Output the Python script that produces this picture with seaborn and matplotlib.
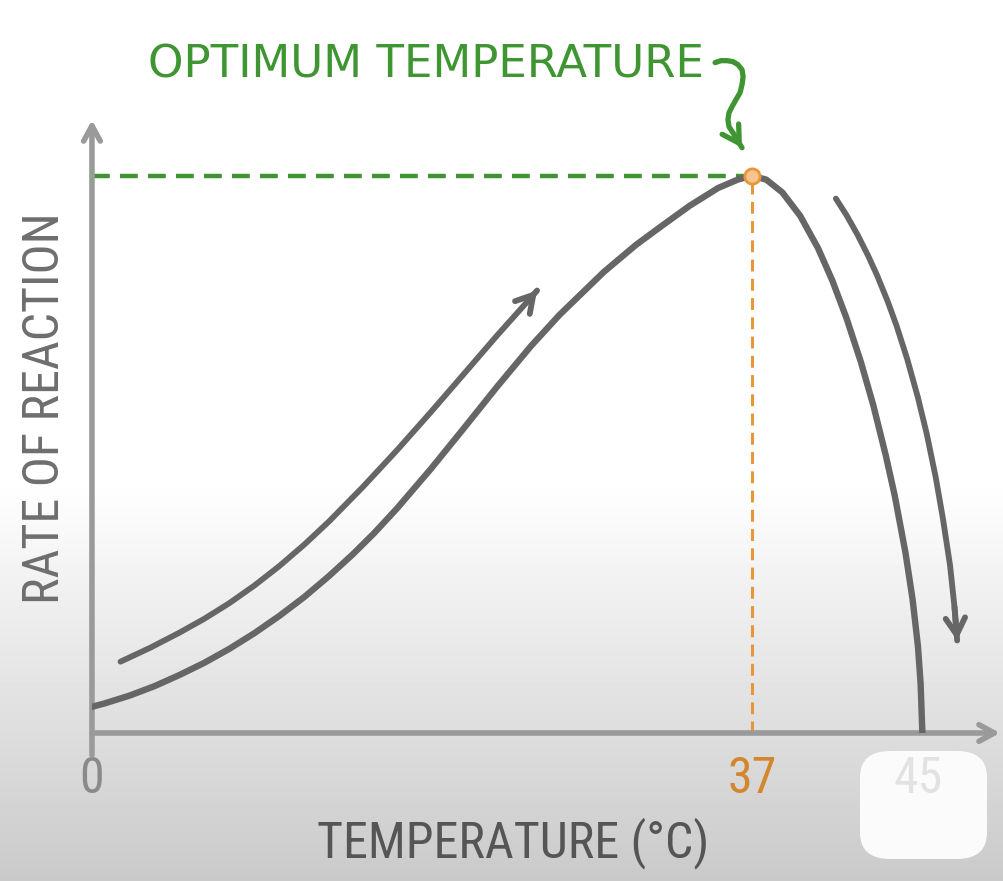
"""Enzyme activity vs temperature sketch"""

import matplotlib
matplotlib.use("Agg")

import matplotlib.pyplot as plt
import numpy as np
import pandas as pd
import seaborn as sns
from matplotlib import font_manager
from matplotlib.patches import FancyBboxPatch

# ---- data ----
temp_c = [0.0, 0.7, 2.1, 3.5, 4.9, 6.3, 7.7, 9.1, 10.5, 11.9, 13.3, 14.6, 15.8, 17.1,
          19.0, 20.8, 22.7, 24.6, 26.2, 28.7, 30.5, 31.9, 33.5, 35.1, 36.2, 37.0,
          37.8, 38.7, 39.7, 40.7, 41.5, 42.3, 43.1, 43.8, 44.5, 45.0, 45.6, 46.0,
          46.3, 46.45, 46.55]
rate = [4.7, 5.3, 6.7, 8.4, 10.4, 12.6, 15.1, 17.9, 21.0, 24.4, 28.2, 32.0, 35.8, 40.3,
        47.4, 54.5, 62.1, 69.4, 75.0, 82.75, 87.6, 90.9, 94.6, 97.8, 99.3, 100.0,
        99.3, 97.0, 92.8, 87.0, 81.2, 74.4, 66.6, 58.8, 49.8, 42.6, 32.4, 24.0,
        15.6, 8.9, 0.0]

# guide arrows drawn beside the curve
rise_temp = [1.6, 3.3, 4.9, 6.3, 7.7, 9.1, 10.5, 11.9, 13.3, 15.2, 17.1, 19.0, 20.8,
             22.7, 24.6, 24.95]
rise_rate = [12.8, 15.35, 18.0, 20.5, 23.3, 26.45, 29.95, 33.8, 38.0, 44.2, 50.75, 57.6,
             64.25, 71.3, 78.1, 79.4]
fall_temp = [41.7, 42.3, 42.9, 43.5, 44.0, 44.6, 45.1, 45.7, 46.3, 46.8, 47.3, 47.7,
             48.1, 48.35, 48.5]
fall_rate = [95.9, 92.9, 89.5, 85.7, 82.2, 77.5, 73.1, 67.1, 60.2, 53.6, 45.85, 38.5,
             30.1, 22.6, 16.6]

# curly pointer from the title down to the peak
curl_temp = [34.93, 35.26, 35.6, 35.93, 36.21, 36.44, 36.5, 36.44, 36.33, 36.1, 35.88,
             35.71, 35.65, 35.71, 35.93, 36.16, 36.44]
curl_rate = [120.3, 120.65, 120.65, 120.47, 119.93, 119.03, 117.77, 116.34, 114.9,
             113.64, 112.39, 111.31, 110.05, 108.8, 107.72, 106.46, 105.03]

optimum_temp = 37
peak_rate = 100
tick_pos = [0, 37, 46.3]
tick_labels = ["0", "37", "45"]

GREEN = "#3f9532"
ORANGE = "#e8963a"
CURVE = "#666666"
AXIS = "#9a9a9a"

sns.set_theme(style="white")
plt.rcParams["font.family"] = ["DejaVu Sans"]


def condensed_font():
    """pick a narrow sans face for the hand-lettered labels, if one is installed"""
    found = [f for f in font_manager.fontManager.ttflist
             if (f.stretch in ("condensed", "semi-condensed")
                 or "Condensed" in f.fname or "Narrow" in f.fname)
             and f.style == "normal" and f.weight in (400, "normal", "regular")
             and "Extra" not in f.fname and "Semi" not in f.fname]
    for pref in ["Noto Sans", "Roboto", "DejaVu Sans", "Open Sans", "Liberation"]:
        for f in found:
            if f.name.startswith(pref):
                return f.fname
    return found[0].fname if found else None


cond_path = condensed_font()


def label_font(size):
    if cond_path:
        return font_manager.FontProperties(fname=cond_path, size=size)
    return font_manager.FontProperties(family="DejaVu Sans", size=size * 0.82)


fig = plt.figure(figsize=(10.04, 8.81), dpi=100)

# background: white fading to light grey at the bottom
bg = fig.add_axes([0, 0, 1, 1], zorder=-1)
grad = np.interp(np.arange(881), [0, 480, 881], [1.0, 1.0, 0.79])[:, None]
bg.imshow(grad, cmap="gray", vmin=0, vmax=1, aspect="auto", extent=(0, 1, 0, 1))
bg.axis("off")

# the white smudge over the "45"
fig.add_artist(FancyBboxPatch((860 / 1004, 22 / 881), 127 / 1004, 108 / 881,
                              boxstyle="round,pad=0,rounding_size=0.03",
                              transform=fig.transFigure, fc="#fbfbfb", ec="none",
                              zorder=0.5))

ax = fig.add_axes([0.0916, 0.168, 0.9044, 0.6958], zorder=2)
ax.patch.set_alpha(0)
ax.set_xlim(0, 50.9)
ax.set_ylim(0, 110)
sns.despine(ax=ax, left=True, bottom=True)

# axes drawn as arrows
head = "->,head_length=0.55,head_width=0.3"
ax.annotate("", xy=(1, 0), xytext=(0, 0), xycoords="axes fraction",
            arrowprops=dict(arrowstyle=head, lw=4, color=AXIS, shrinkA=0, shrinkB=0,
                            mutation_scale=20))
ax.annotate("", xy=(0, 1), xytext=(0, -0.036), xycoords="axes fraction",
            arrowprops=dict(arrowstyle=head, lw=4, color=AXIS, shrinkA=0, shrinkB=0,
                            mutation_scale=20))

# guide lines to the optimum
ax.plot([0, optimum_temp], [peak_rate, peak_rate], color=GREEN, lw=3.2,
        ls=(0, (4, 2.3)), zorder=2)
ax.plot([optimum_temp, optimum_temp], [0, peak_rate], color=ORANGE, lw=2.2,
        ls=(0, (3.9, 2.4)), zorder=2)

# main curve
df = pd.DataFrame({"temperature": temp_c, "rate": rate})
sns.lineplot(data=df, x="temperature", y="rate", sort=False, color=CURVE, lw=4.6,
             solid_capstyle="round", solid_joinstyle="round", ax=ax, zorder=3)
ax.plot(optimum_temp, peak_rate, "o", ms=11, mfc="#f6c58f", mec=ORANGE, mew=2, zorder=4)

# rise / fall arrows
for xs, ys in [(rise_temp, rise_rate), (fall_temp, fall_rate)]:
    sns.lineplot(x=xs, y=ys, sort=False, color=CURVE, lw=4.2, solid_capstyle="round",
                 solid_joinstyle="round", ax=ax, zorder=3)
    ax.annotate("", xy=(xs[-1], ys[-1]), xytext=(xs[-2], ys[-2]),
                arrowprops=dict(arrowstyle="->,head_length=0.6,head_width=0.35", lw=4.2,
                                color=CURVE, shrinkA=0, shrinkB=0, mutation_scale=20))

# title + curly pointer
ax.text(18.7, 119.8, "OPTIMUM TEMPERATURE", ha="center", va="center", color=GREEN,
        fontsize=32.5, clip_on=False)
ax.plot(curl_temp, curl_rate, color=GREEN, lw=3.8, solid_capstyle="round",
        solid_joinstyle="round", clip_on=False)
ax.annotate("", xy=(curl_temp[-1], curl_rate[-1]), xytext=(curl_temp[-2], curl_rate[-2]),
            annotation_clip=False,
            arrowprops=dict(arrowstyle="->,head_length=0.6,head_width=0.35", lw=3.8,
                            color=GREEN, shrinkA=0, shrinkB=0, mutation_scale=20))

# ticks and labels
ax.set_xticks(tick_pos, labels=tick_labels)
ax.set_yticks([])
ax.tick_params(axis="x", length=0, pad=16)
for lab, col in zip(ax.get_xticklabels(), ["#8a8a8a", "#d4862c", "#e2e2e2"]):
    lab.set_color(col)
    lab.set_fontproperties(label_font(36))

ax.set_xlabel("TEMPERATURE (°C)", fontproperties=label_font(36), color="#555555",
              va="center")
ax.xaxis.set_label_coords(0.464, -0.179)
ax.set_ylabel("RATE OF REACTION", fontproperties=label_font(36), color="#6e6e6e",
              va="center")
ax.yaxis.set_label_coords(-0.052, 0.53)

fig.savefig("out.png", dpi=100)
plt.close(fig)
